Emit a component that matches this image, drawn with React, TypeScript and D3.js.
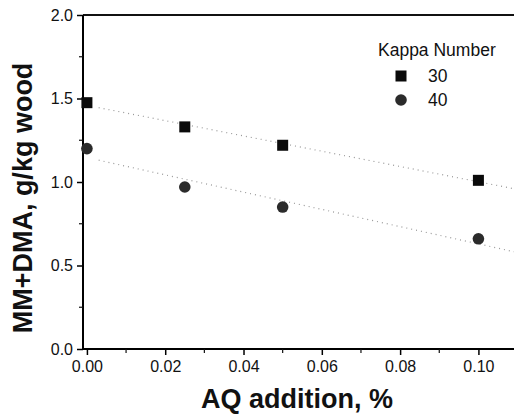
import React, { useEffect, useRef } from "react";
import * as d3 from "d3";

// AQ addition, %
const aqLevels = [0, 0.025, 0.05, 0.1];
// MM+DMA, g/kg wood for each kappa number
const kappa30 = [1.475, 1.33, 1.22, 1.01];
const kappa40 = [1.2, 0.97, 0.85, 0.66];
const seriesNames = ["30", "40"];
const xTickValues = [0, 0.02, 0.04, 0.06, 0.08, 0.1];
const yTickValues = [0, 0.5, 1.0, 1.5, 2.0];

const W = 514;
const H = 416;
const font = "'Liberation Sans', Arial, sans-serif";

// plain least squares fit for the dotted trend lines
const fit = (xs: number[], ys: number[]) => {
  const mx = d3.mean(xs) as number;
  const my = d3.mean(ys) as number;
  let sxy = 0;
  let sxx = 0;
  xs.forEach((x, i) => {
    sxy += (x - mx) * (ys[i] - my);
    sxx += (x - mx) * (x - mx);
  });
  const slope = sxy / sxx;
  return { slope, intercept: my - slope * mx };
};

const App = () => {
  const ref = useRef<SVGSVGElement>(null);

  useEffect(() => {
    const svg = d3.select(ref.current);
    svg.selectAll("*").remove();

    const left = 83;
    const top = 15;
    const bottom = 349;
    const x = d3.scaleLinear().domain([-0.001, 0.11]).range([left, left + 0.111 * 3915]);
    const y = d3.scaleLinear().domain([0, 2]).range([bottom, top]);

    // frame: left axis, top line, bottom axis
    svg.append("line").attr("x1", left).attr("x2", W).attr("y1", top).attr("y2", top)
      .attr("stroke", "#111").attr("stroke-width", 2);

    const xAxis = d3.axisBottom(x).tickValues(xTickValues).tickSize(6)
      .tickPadding(6).tickFormat(d3.format(".2f"));
    const gx = svg.append("g").attr("transform", `translate(0,${bottom})`).call(xAxis);
    gx.select(".domain").attr("stroke-width", 2).attr("d", `M${left},0H${W}`);

    const yAxis = d3.axisLeft(y).tickValues(yTickValues).tickSize(6)
      .tickPadding(4).tickFormat(d3.format(".1f"));
    const gy = svg.append("g").attr("transform", `translate(${left},0)`).call(yAxis);
    gy.select(".domain").attr("stroke-width", 2).attr("d", `M0,${top}V${bottom}`);

    [gx, gy].forEach((g) => {
      g.selectAll(".tick line").attr("stroke-width", 1.5);
      g.selectAll(".tick text").attr("font-family", font).attr("font-size", 16).attr("fill", "#111");
    });

    // minor ticks
    svg.append("g").selectAll("line")
      .data([0.01, 0.03, 0.05, 0.07, 0.09]).join("line")
      .attr("x1", (d) => x(d)).attr("x2", (d) => x(d))
      .attr("y1", bottom).attr("y2", bottom + 4)
      .attr("stroke", "#111").attr("stroke-width", 1.2);
    svg.append("g").selectAll("line")
      .data([0.25, 0.75, 1.25, 1.75]).join("line")
      .attr("x1", left).attr("x2", left - 4)
      .attr("y1", (d) => y(d)).attr("y2", (d) => y(d))
      .attr("stroke", "#111").attr("stroke-width", 1.2);

    // dotted trend lines
    [kappa30, kappa40].forEach((vals) => {
      const f = fit(aqLevels, vals);
      svg.append("line")
        .attr("x1", x(0.003)).attr("y1", y(f.intercept + f.slope * 0.003))
        .attr("x2", W).attr("y2", y(f.intercept + f.slope * x.invert(W)))
        .attr("stroke", "#999").attr("stroke-width", 1.2)
        .attr("stroke-dasharray", "1,4");
    });

    const pts30 = aqLevels.map((a, i) => [a, kappa30[i]]);
    const pts40 = aqLevels.map((a, i) => [a, kappa40[i]]);

    svg.append("g").selectAll("rect").data(pts30).join("rect")
      .attr("x", (d) => x(d[0]) - 5.5).attr("y", (d) => y(d[1]) - 5.5)
      .attr("width", 11).attr("height", 11).attr("fill", "#0a0a0a");

    svg.append("g").selectAll("circle").data(pts40).join("circle")
      .attr("cx", (d) => x(d[0])).attr("cy", (d) => y(d[1]))
      .attr("r", 5.8).attr("fill", "#2b2b2b");

    // legend
    const lg = svg.append("g").attr("font-family", font).attr("fill", "#111");
    lg.append("text").attr("x", 378).attr("y", 56).attr("font-size", 17.5).text("Kappa Number");
    lg.append("rect").attr("x", 395.5).attr("y", 70.5).attr("width", 11).attr("height", 11).attr("fill", "#0a0a0a");
    lg.append("circle").attr("cx", 401).attr("cy", 100).attr("r", 5.8).attr("fill", "#2b2b2b");
    seriesNames.forEach((s, i) => {
      lg.append("text").attr("x", 428).attr("y", 82 + i * 24).attr("font-size", 17.5).text(s);
    });

    // axis titles
    svg.append("text").attr("x", 297).attr("y", 408).attr("text-anchor", "middle")
      .attr("font-family", font).attr("font-weight", "bold").attr("font-size", 27)
      .attr("fill", "#111").text("AQ addition, %");
    svg.append("text").attr("transform", `translate(32,198) rotate(-90)`)
      .attr("text-anchor", "middle")
      .attr("font-family", font).attr("font-weight", "bold").attr("font-size", 27)
      .attr("fill", "#111").text("MM+DMA, g/kg wood");
  }, []);

  return (
    <svg ref={ref} width={W} height={H}
      style={{ position: "absolute", left: 0, top: 0, background: "#fff" }} />
  );
};

export default App;
